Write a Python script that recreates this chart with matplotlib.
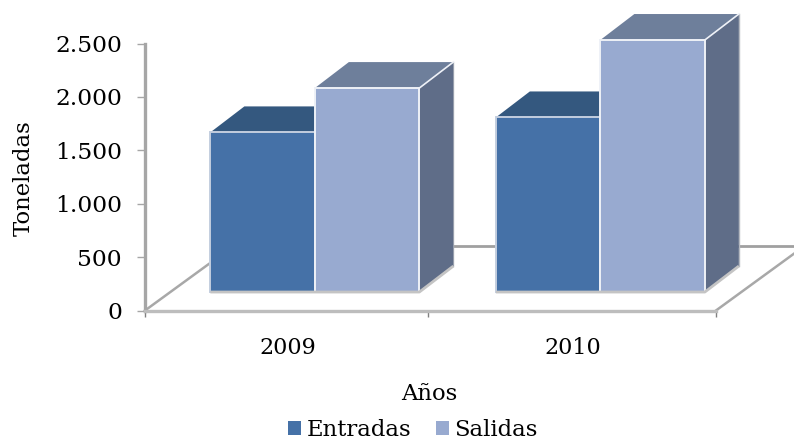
import matplotlib
matplotlib.use("Agg")
import matplotlib.pyplot as plt

years = ["2009", "2010"]
entradas = [1495, 1635]
salidas = [1910, 2360]
series_labels = ["Entradas", "Salidas"]
y_ticks = [0, 500, 1000, 1500, 2000, 2500]
y_tick_labels = ["0", "500", "1.000", "1.500", "2.000", "2.500"]

W, H = 794, 441
FS = 16.4
plt.rcParams["font.family"] = ["DejaVu Serif"]
fig = plt.figure(figsize=(W / 100, H / 100), dpi=100)
ax = fig.add_axes([145 / W, 1 - 310.5 / H, (716 - 145) / W, (310.5 - 43.5) / H])
ax.set_xlim(0.5, 2.5)
ax.set_ylim(0, 2500)

BAR_W = 0.366
INSET_X, INSET_Y = 0.095, 173
DEPTH_X, DEPTH_Y = 0.119, 243
FLOOR_X, FLOOR_Y = 0.31, 604

C_E = ("#4571a7", "#34587f", "#3a5a85")
C_S = ("#98aad0", "#6e7f9b", "#5f6d88")
EDGE_E = "#c3cedf"
EDGE_S = "#eef1f7"
BASE = "#c4c4c4"

# floor and back wall lines
ax.plot([0.5, 0.5 + FLOOR_X], [0, FLOOR_Y], color="#a8a8a8", lw=1.8, zorder=1, clip_on=False)
ax.plot([2.5, 2.5 + FLOOR_X], [0, FLOOR_Y], color="#a8a8a8", lw=1.8, zorder=1, clip_on=False)
ax.plot([0.5 + FLOOR_X, 2.5 + FLOOR_X], [FLOOR_Y, FLOOR_Y], color="#a0a0a0", lw=2, zorder=1, clip_on=False)


def box(xc, value, colors, edge, label, z):
    x0, x1 = xc - BAR_W / 2, xc + BAR_W / 2
    y0 = INSET_Y
    y1 = INSET_Y + value
    dx, dy = DEPTH_X, DEPTH_Y
    ax.fill([x0, x1, x1 + dx, x0 + dx], [y1, y1, y1 + dy, y1 + dy], color=colors[1],
            lw=0, zorder=z, clip_on=False)
    ax.fill([x1, x1 + dx, x1 + dx, x1], [y0, y0 + dy, y1 + dy, y1], color=colors[2],
            lw=0, zorder=z, clip_on=False)
    ax.bar(xc, value, BAR_W, bottom=y0, color=colors[0], edgecolor=edge, linewidth=1.4,
           zorder=z + 0.1, label=label, clip_on=False)
    ax.plot([x1, x1 + dx], [y1, y1 + dy], color=edge, lw=1.2, zorder=z + 0.2, clip_on=False)
    return x0, x1


for i, yr in enumerate(years):
    cat = i + 1
    xm = cat + INSET_X
    e0, _ = box(xm - BAR_W / 2, entradas[i], C_E, EDGE_E, series_labels[0] if i == 0 else None, 3)
    _, s1 = box(xm + BAR_W / 2, salidas[i], C_S, EDGE_S, series_labels[1] if i == 0 else None, 4)
    ax.plot([e0, s1, s1 + DEPTH_X], [INSET_Y, INSET_Y, INSET_Y + DEPTH_Y], color=BASE, lw=2,
            zorder=5, clip_on=False, solid_capstyle="butt")
    ax.plot([s1 + DEPTH_X, s1 + DEPTH_X], [INSET_Y + DEPTH_Y, INSET_Y + DEPTH_Y + salidas[i]],
            color="#b4b8c0", lw=1, zorder=3.5, clip_on=False)

for s in ["top", "right"]:
    ax.spines[s].set_visible(False)
ax.spines["left"].set_color("#a6a6a6")
ax.spines["left"].set_linewidth(2.4)
ax.spines["bottom"].set_color("#bdbdbd")
ax.spines["bottom"].set_linewidth(2.4)

ax.set_yticks(y_ticks)
ax.set_yticklabels(y_tick_labels, fontsize=FS + 0.4)
ax.tick_params(axis="y", length=5.5, width=1, color="#a6a6a6", pad=11)
ax.set_xticks([0.5, 1.49, 2.5])
ax.set_xticklabels([])
ax.set_xticks([1, 2], minor=True)
ax.set_xticklabels(years, minor=True, fontsize=FS - 0.4)
ax.tick_params(axis="x", which="major", length=4, width=1, color="#808080")
ax.tick_params(axis="x", which="minor", length=0, pad=19)
ax.patch.set_alpha(0)

fig.text(429 / W, 1 - 394 / H, "Años", fontsize=FS, ha="center", va="center")
fig.text(24 / W, 1 - 178 / H, "Toneladas", fontsize=FS, rotation=90, ha="center", va="center")

handles, labels = ax.get_legend_handles_labels()
leg = fig.legend(handles, labels, loc="center", bbox_to_anchor=(413 / W, 1 - 430 / H), ncol=2,
                 frameon=False, fontsize=FS, handlelength=0.55, handleheight=0.55,
                 handletextpad=0.25, columnspacing=1.1, borderpad=0, borderaxespad=0)
for h in leg.legend_handles:
    h.set_edgecolor("none")

fig.savefig("out.png", dpi=100)
